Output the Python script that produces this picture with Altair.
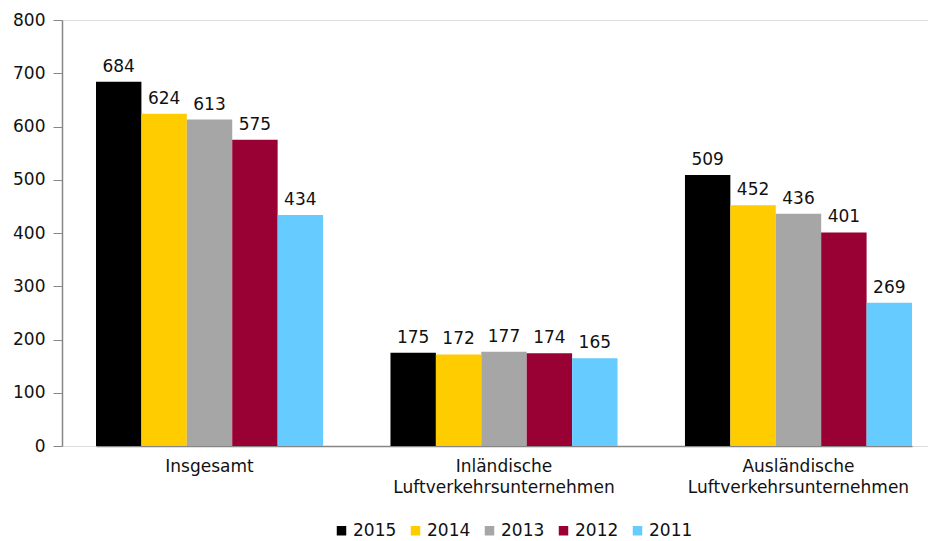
import altair as alt
import pandas as pd

categories = ["Insgesamt", "Inländische Luftverkehrsunternehmen", "Ausländische Luftverkehrsunternehmen"]
years = ["2015", "2014", "2013", "2012", "2011"]
v2015 = [684, 175, 509]
v2014 = [624, 172, 452]
v2013 = [613, 177, 436]
v2012 = [575, 174, 401]
v2011 = [434, 165, 269]
colors = ["#000000", "#FFCC00", "#A6A6A6", "#990033", "#66CCFF"]

series = [v2015, v2014, v2013, v2012, v2011]
rows = []
for yr, vals in zip(years, series):
    for c, v in zip(categories, vals):
        rows.append({"cat": c, "year": yr, "value": v})
df = pd.DataFrame(rows)

FONT = "DejaVu Sans"

base = alt.Chart(df).encode(
    x=alt.X(
        "cat:N",
        sort=categories,
        scale=alt.Scale(range=[34, 850], paddingInner=0.229, paddingOuter=0),
        axis=alt.Axis(
            title=None, labelAngle=0, ticks=False,
            labelExpr="split(datum.label, ' ')",
            labelFontSize=17, labelColor="#111", labelFont=FONT,
            labelPadding=12, labelLineHeight=21, labelLimit=0,
            domainColor="#868686", domainWidth=1.5,
        ),
    ),
    xOffset=alt.XOffset("year:N", sort=years, scale=alt.Scale(paddingInner=0, paddingOuter=0)),
    y=alt.Y(
        "value:Q",
        scale=alt.Scale(domain=[0, 800], nice=False),
        axis=alt.Axis(
            title=None, values=list(range(0, 801, 100)), grid=False,
            tickSize=9, tickColor="#868686", domainColor="#868686", domainWidth=1.5,
            labelFontSize=17, labelColor="#111", labelFont=FONT, labelPadding=8,
        ),
    ),
)

bars = base.mark_bar().encode(
    color=alt.Color(
        "year:N", sort=years,
        scale=alt.Scale(domain=years, range=colors),
        legend=alt.Legend(
            title=None, orient="none", direction="horizontal",
            legendX=271, legendY=502,
            symbolType="square", symbolSize=90, symbolStrokeWidth=0,
            labelFontSize=17, labelFont=FONT, labelColor="#111",
            labelOffset=3, columnPadding=10,
        ),
    )
)

labels = base.mark_text(baseline="alphabetic", dy=-10, fontSize=17, font=FONT, color="#111").encode(
    text=alt.Text("value:Q")
)

chart = (bars + labels).properties(
    width=866, height=426,
    autosize=alt.AutoSizeParams(type="none"),
    padding={"left": 54, "top": 12, "right": 0, "bottom": 95},
).configure_view(stroke=None).configure(background="white")

chart.save("out.html", embed_options={"renderer": "svg", "actions": False})
